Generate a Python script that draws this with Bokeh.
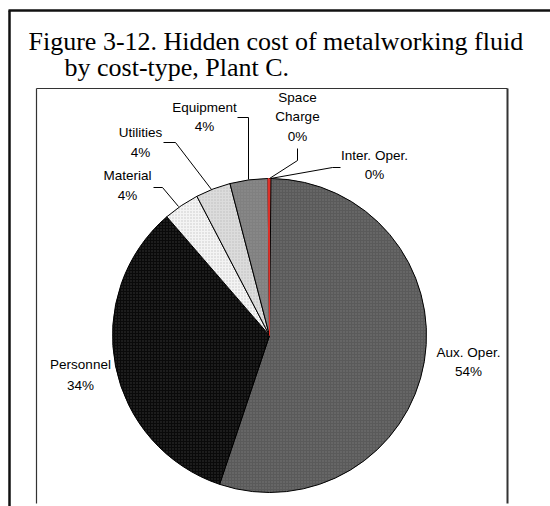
import math
from bokeh.plotting import figure
from bokeh.models import Range1d, Label, ColumnDataSource
from bokeh.embed import file_html
from bokeh.resources import INLINE

# ---- data (clockwise from 12 o'clock) ----
categories = ["Inter. Oper.", "Aux. Oper.", "Personnel", "Material", "Utilities", "Equipment", "Space Charge"]
shares = [0.15, 55.0, 33.5, 3.7, 3.6, 3.9, 0.15]
pct_labels = ["0%", "54%", "34%", "4%", "4%", "4%", "0%"]
fills = ["#e8302a", "#5a5a5a", "#0a0a0a", "#f4f4f4", "#dcdcdc", "#808080", "#e8302a"]
hatch_cols = ["#e8302a", "#787878", "#383838", "#c8c8c8", "#bdbdbd", "#909090", "#e8302a"]
edge_cols = ["#e03028", "black", "black", "black", "black", "black", "#e03028"]

title_lines = ["Figure 3-12. Hidden cost of metalworking fluid", "by cost-type, Plant C."]

W, H = 550, 506
def Y(y):
    return H - y

p = figure(width=W, height=H, output_backend="svg", toolbar_location=None,
           x_range=Range1d(0, W), y_range=Range1d(0, H), min_border=0)
p.axis.visible = False
p.grid.visible = False
p.outline_line_color = None
p.background_fill_color = "white"
p.border_fill_color = "white"

# frames
p.segment(x0=[9, 8], y0=[Y(10), Y(10)], x1=[9, 550], y1=[Y(507), Y(10)], line_color="#111111", line_width=2.5)
p.segment(x0=[36, 36, 507], y0=[Y(88), Y(88), Y(88)], x1=[36, 507, 507], y1=[Y(503), Y(88), Y(503)],
          line_color="#333333", line_width=[1.2, 1.2, 2])

# pie
cx, cy, r = 269, Y(335), 157
total = float(sum(shares))
starts, ends = [], []
acc = 0.0
for s in shares:
    a0 = acc / total * 2 * math.pi
    acc += s
    a1 = acc / total * 2 * math.pi
    starts.append(math.pi / 2 - a0)
    ends.append(math.pi / 2 - a1)
src = ColumnDataSource(dict(start=starts, end=ends, fill=fills, hc=hatch_cols, ec=edge_cols, cat=categories))
p.wedge(x=cx, y=cy, radius=r, start_angle="start", end_angle="end", direction="clock",
        fill_color="fill", line_color="ec", line_width=1, source=src,
        hatch_pattern="dot", hatch_color="hc", hatch_scale=3, hatch_weight=1)

# title
p.add_layout(Label(x=28, y=Y(41), text=title_lines[0], text_font="Liberation Serif",
                   text_font_size="26px", text_color="black", text_baseline="alphabetic"))
p.add_layout(Label(x=64, y=Y(67), text=title_lines[1], text_font="Liberation Serif",
                   text_font_size="26px", text_color="black", text_baseline="alphabetic"))

# slice labels: centre x, name-line y values, percent y
label_pos = {
    "Inter. Oper.": (374, [155], 174),
    "Aux. Oper.": (468, [352], 371),
    "Personnel": (80, [364], 385),
    "Material": (127, [175], 195),
    "Utilities": (140, [132], 152),
    "Equipment": (204, [107], 126),
    "Space Charge": (297, [97, 116], 136),
}
for cat, pct in zip(categories, pct_labels):
    x, ys, yp = label_pos[cat]
    names = cat.split(" ") if cat == "Space Charge" else [cat]
    for nm, yy in zip(names, ys):
        p.add_layout(Label(x=x, y=Y(yy), text=nm, text_font="Liberation Sans", text_font_size="13.5px",
                           text_align="center", text_baseline="middle", text_color="black"))
    p.add_layout(Label(x=x, y=Y(yp), text=pct, text_font="Liberation Sans", text_font_size="13.5px",
                       text_align="center", text_baseline="middle", text_color="black"))

# leader lines
leaders = [
    ([237, 248, 248], [117, 117, 179]),          # Equipment
    ([297, 297, 269], [148, 160, 178]),          # Space Charge
    ([340, 332, 270], [167, 167, 178]),          # Inter. Oper.
    ([163, 175, 211], [142, 142, 189]),          # Utilities
    ([153, 162, 178], [187, 187, 206]),          # Material
]
p.multi_line(xs=[l[0] for l in leaders], ys=[[Y(v) for v in l[1]] for l in leaders],
             line_color="black", line_width=1)

open("out.html", "w").write(file_html(p, INLINE))
